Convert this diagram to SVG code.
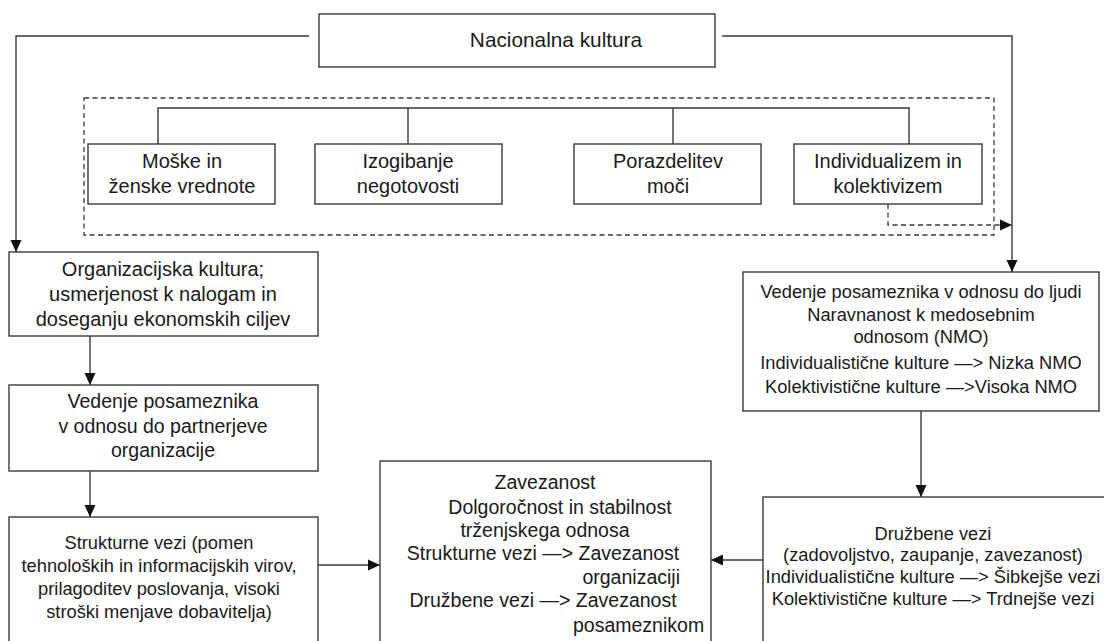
<svg xmlns="http://www.w3.org/2000/svg" width="1104" height="641" viewBox="0 0 1104 641">
<style>
.box{fill:#fff;stroke:#3a3a3a;stroke-width:1.4}
.ln{fill:none;stroke:#3a3a3a;stroke-width:1.4}
.dash{fill:none;stroke:#3a3a3a;stroke-width:1.3;stroke-dasharray:5 3.5}
text{font-family:"Liberation Sans",Arial,sans-serif;fill:#1a1a1a;text-anchor:middle}
.t21{font-size:20.8px}
.t20{font-size:20px}
.t19{font-size:19.5px}
.t18{font-size:18.3px}
</style>
<defs>
<marker id="ah" markerUnits="userSpaceOnUse" markerWidth="12" markerHeight="12" viewBox="0 0 12 12" refX="12" refY="6" orient="auto">
<path d="M0,0.5 L12,6 L0,11.5 Z" fill="#111"/>
</marker>
</defs>
<rect width="1104" height="641" fill="#fff"/>

<g id="connectors">
<polyline class="ln" points="309,36 16,36 16,252" marker-end="url(#ah)"/>
<polyline class="ln" points="722,36 1012,36 1012,272" marker-end="url(#ah)"/>
<rect class="dash" x="84" y="98" width="910" height="137"/>
<polyline class="ln" points="158,144 158,108 909,108 909,144"/>
<line class="ln" x1="408" y1="108" x2="408" y2="144"/>
<line class="ln" x1="673" y1="108" x2="673" y2="144"/>
<polyline class="dash" points="888,204 888,225 1012,225" marker-end="url(#ah)"/>
<line class="ln" x1="90" y1="336" x2="90" y2="385" marker-end="url(#ah)"/>
<line class="ln" x1="90" y1="471" x2="90" y2="517" marker-end="url(#ah)"/>
<line class="ln" x1="318" y1="565" x2="380" y2="565" marker-end="url(#ah)"/>
<line class="ln" x1="921" y1="411" x2="921" y2="497" marker-end="url(#ah)"/>
<line class="ln" x1="763" y1="560" x2="711" y2="560" marker-end="url(#ah)"/>
</g>

<g id="nacionalna">
<rect class="box" x="319" y="14" width="396" height="53"/>
<text class="t21" x="556" y="47">Nacionalna kultura</text>
</g>

<g id="moske">
<rect class="box" x="88" y="144" width="187" height="60"/>
<text class="t20" x="182" y="168">Moške in</text>
<text class="t20" x="182" y="193">ženske vrednote</text>
</g>

<g id="izogibanje">
<rect class="box" x="315" y="144" width="187" height="60"/>
<text class="t20" x="408" y="168">Izogibanje</text>
<text class="t20" x="408" y="193">negotovosti</text>
</g>

<g id="porazdelitev">
<rect class="box" x="574" y="144" width="187" height="60"/>
<text class="t20" x="668" y="168">Porazdelitev</text>
<text class="t20" x="668" y="193">moči</text>
</g>

<g id="individualizem">
<rect class="box" x="794" y="144" width="188" height="60"/>
<text class="t20" x="888" y="168">Individualizem in</text>
<text class="t20" x="888" y="193">kolektivizem</text>
</g>

<g id="organizacijska">
<rect class="box" x="9" y="252" width="309" height="84"/>
<text class="t20" x="163" y="276">Organizacijska kultura;</text>
<text class="t20" x="163" y="301">usmerjenost k nalogam in</text>
<text class="t20" x="163" y="326">doseganju ekonomskih ciljev</text>
</g>

<g id="vedenje-partner">
<rect class="box" x="9" y="385" width="309" height="86"/>
<text class="t19" x="163" y="408">Vedenje posameznika</text>
<text class="t19" x="163" y="433">v odnosu do partnerjeve</text>
<text class="t19" x="163" y="457">organizacije</text>
</g>

<g id="strukturne">
<rect class="box" x="9" y="517" width="309" height="140"/>
<text class="t18" x="159" y="549">Strukturne vezi (pomen</text>
<text class="t18" x="159" y="572">tehnoloških in informacijskih virov,</text>
<text class="t18" x="159" y="595">prilagoditev poslovanja, visoki</text>
<text class="t18" x="159" y="618">stroški menjave dobavitelja)</text>
</g>

<g id="zavezanost">
<rect class="box" x="380" y="461" width="331" height="196"/>
<text class="t19" x="545" y="489">Zavezanost</text>
<text class="t19" x="560" y="514">Dolgoročnost in stabilnost</text>
<text class="t19" x="545" y="537">trženjskega odnosa</text>
<text class="t19" x="543" y="560">Strukturne vezi —&gt; Zavezanost</text>
<text class="t19" x="680" y="584" style="text-anchor:end">organizaciji</text>
<text class="t19" x="543" y="607">Družbene vezi —&gt; Zavezanost</text>
<text class="t19" x="573" y="632" style="text-anchor:start">posameznikom</text>
</g>

<g id="vedenje-ljudi">
<rect class="box" x="743" y="272" width="356" height="139"/>
<text class="t18" x="921" y="298">Vedenje posameznika v odnosu do ljudi</text>
<text class="t18" x="921" y="321">Naravnanost k medosebnim</text>
<text class="t18" x="921" y="343">odnosom (NMO)</text>
<text class="t18" x="921" y="369">Individualistične kulture —&gt; Nizka NMO</text>
<text class="t18" x="921" y="393">Kolektivistične kulture —&gt;Visoka NMO</text>
</g>

<g id="druzbene">
<rect class="box" x="763" y="497" width="360" height="160"/>
<text class="t18" x="933" y="540">Družbene vezi</text>
<text class="t18" x="933" y="561">(zadovoljstvo, zaupanje, zavezanost)</text>
<text class="t18" x="933" y="583">Individualistične kulture —&gt; Šibkejše vezi</text>
<text class="t18" x="933" y="605">Kolektivistične kulture —&gt; Trdnejše vezi</text>
</g>
</svg>
